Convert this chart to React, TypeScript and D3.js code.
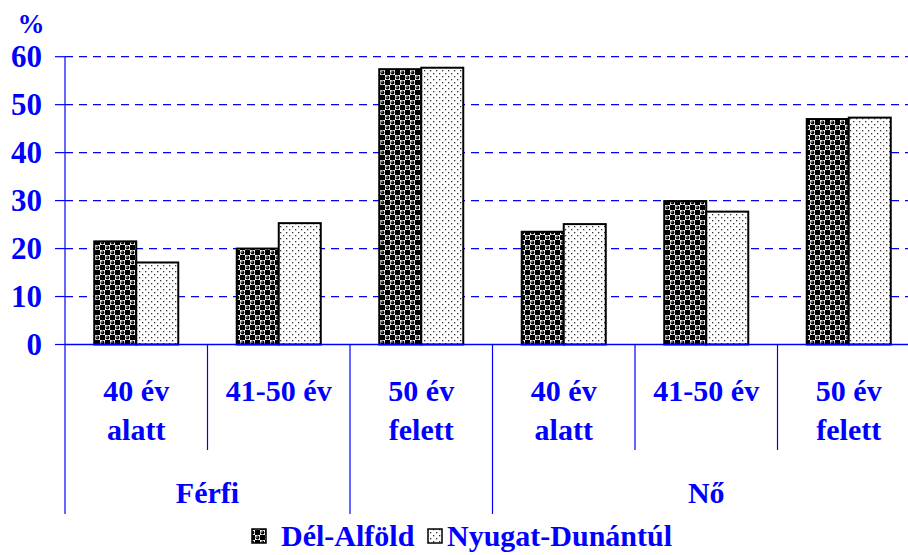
import React from "react";
import * as d3 from "d3";

const categories = ["f40", "f4150", "f50", "n40", "n4150", "n50"];
const categoryLines: string[][] = [
  ["40 év", "alatt"],
  ["41-50 év"],
  ["50 év", "felett"],
  ["40 év", "alatt"],
  ["41-50 év"],
  ["50 év", "felett"],
];
const seriesNames = ["Dél-Alföld", "Nyugat-Dunántúl"];
const delAlfold = [21.5, 20.0, 57.4, 23.5, 29.9, 47.0];
const nyugatDunantul = [17.1, 25.3, 57.7, 25.1, 27.7, 47.3];
const yTicks = [0, 10, 20, 30, 40, 50, 60];
const groups = [
  { label: "Férfi", from: 0, to: 2 },
  { label: "Nő", from: 3, to: 6 },
];

const W = 908;
const H = 555;
const BLUE = "#0000ff";
const FONT = "'Liberation Serif', 'Times New Roman', serif";

export default function App() {
  const x = d3.scaleBand<string>().domain(categories).range([65, 920]).paddingInner(0).paddingOuter(0);
  const xs = d3.scaleBand<string>().domain(seriesNames).range([0, x.bandwidth()]).paddingInner(0).paddingOuter(0.696);
  const y = d3.scaleLinear().domain([0, 60]).range([344.5, 56.7]);
  const series = [delAlfold, nyugatDunantul];
  const fills = ["url(#patDA)", "url(#patND)"];
  const bottom = y(0);

  const boundaries = categories.map((c) => x(c)!).concat([x.range()[1]]);
  const longIdx = new Set([0, 2, 3, 6]);

  return (
    <svg width={W} height={H} style={{ position: "absolute", left: 0, top: 0, background: "#fff" }}>
      <defs>
        <pattern id="patDA" patternUnits="userSpaceOnUse" width="10" height="10">
          <rect width="10" height="10" fill="#fff" />
          <rect x="5" y="0" width="5" height="5" fill="#000" />
          <rect x="0" y="5" width="5" height="5" fill="#000" />
          <circle cx="2.5" cy="2.5" r="1.9" fill="#000" />
          <circle cx="7.5" cy="7.5" r="1.9" fill="#000" />
          <circle cx="1.9" cy="1.9" r="0.7" fill="#fff" />
          <circle cx="6.9" cy="6.9" r="0.7" fill="#fff" />
        </pattern>
        <pattern id="patND" patternUnits="userSpaceOnUse" width="6" height="6">
          <rect width="6" height="6" fill="#fff" />
          <rect x="1" y="1" width="1.3" height="1.3" fill="#333" />
          <rect x="4" y="4" width="1.3" height="1.3" fill="#333" />
        </pattern>
      </defs>

      {yTicks.filter((t) => t > 0).map((t) => (
        <line key={"g" + t} x1={65} x2={W} y1={y(t)} y2={y(t)} stroke={BLUE} strokeWidth={1.2} strokeDasharray="8,6" />
      ))}

      <line x1={65} x2={65} y1={y(60)} y2={bottom} stroke={BLUE} strokeWidth={1.2} />
      {yTicks.map((t) => (
        <g key={"t" + t}>
          <line x1={55} x2={65} y1={y(t)} y2={y(t)} stroke={BLUE} strokeWidth={1.2} />
          <text x={42} y={y(t) + 10.5} textAnchor="end" fontFamily={FONT} fontWeight="bold" fontSize={31} fill={BLUE}>
            {t}
          </text>
        </g>
      ))}
      <text x={31} y={33} textAnchor="middle" fontFamily={FONT} fontWeight="bold" fontSize={27} fill={BLUE}>%</text>

      {series.map((vals, si) =>
        vals.map((v, ci) => (
          <rect
            key={si + "-" + ci}
            x={x(categories[ci])! + xs(seriesNames[si])!}
            y={y(v)}
            width={xs.bandwidth()}
            height={bottom - y(v)}
            fill={fills[si]}
            stroke="#000"
            strokeWidth={2}
          />
        ))
      )}

      <line x1={65} x2={W} y1={bottom} y2={bottom} stroke={BLUE} strokeWidth={1.5} />

      {boundaries.map((b, i) => (
        <line key={"d" + i} x1={b} x2={b} y1={bottom} y2={longIdx.has(i) ? 514 : 450} stroke={BLUE} strokeWidth={1.2} />
      ))}

      {categories.map((c, i) => (
        <text key={"c" + c} textAnchor="middle" fontFamily={FONT} fontWeight="bold" fontSize={30} fill={BLUE}>
          {categoryLines[i].map((ln, li) => (
            <tspan key={li} x={x(c)! + x.bandwidth() / 2} y={401 + li * 39}>
              {ln}
            </tspan>
          ))}
        </text>
      ))}

      {groups.map((g) => (
        <text
          key={g.label}
          x={(boundaries[g.from] + boundaries[g.to]) / 2}
          y={503}
          textAnchor="middle"
          fontFamily={FONT}
          fontWeight="bold"
          fontSize={30}
          fill={BLUE}
        >
          {g.label}
        </text>
      ))}

      {[{ bx: 252, tx: 281 }, { bx: 428, tx: 447 }].map((p, i) => (
        <g key={"l" + i}>
          <rect x={p.bx} y={529} width={14} height={14} fill={fills[i]} stroke="#000" strokeWidth={1.5} />
          <text x={p.tx} y={546} fontFamily={FONT} fontWeight="bold" fontSize={30} fill={BLUE}>
            {seriesNames[i]}
          </text>
        </g>
      ))}
    </svg>
  );
}
